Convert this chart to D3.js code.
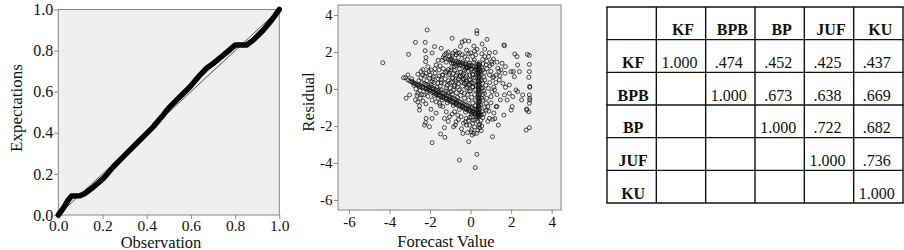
<!DOCTYPE html>
<html><head><meta charset="utf-8">
<script src="https://cdn.jsdelivr.net/npm/d3@7"></script>
<style>
html,body{margin:0;padding:0;background:#fff;}
svg{display:block;}
svg text{font-family:"Liberation Serif","Times New Roman",serif !important;fill:#111;}
</style></head>
<body><svg id="c" width="904" height="250"></svg>
<script>
// ---- P-P plot data ----
const ppObserved = [0,0.023,0.045,0.06,0.098,0.12,0.158,0.204,0.249,0.309,0.355,0.40,0.43,0.475,0.498,0.536,0.596,0.641,0.671,0.701,0.747,0.80,0.852,0.882,0.928,0.966,1.0];
const ppExpected = [0,0.033,0.073,0.092,0.094,0.105,0.135,0.178,0.235,0.30,0.349,0.397,0.43,0.487,0.519,0.56,0.624,0.681,0.714,0.738,0.778,0.827,0.827,0.851,0.90,0.949,1.0];
const ppTicks = [0,0.2,0.4,0.6,0.8,1.0];

// ---- Residual scatter data: [forecast, residual] ----
const residualPoints = [
[-4.33,1.42],[-2.14,3.19],[-2.72,2.52],[-3.06,1.87],[-2.24,2.52],[-2.24,2.07],[-1.78,2.29],[-1.45,2.2],[-0.91,2.74],[-0.42,2.54],
[-0.29,2.61],[-0.09,2.59],[0.31,3.15],[0.31,3.0],[0.81,2.68],[0.57,2.43],[0.16,2.32],[0.32,2.14],[0.93,1.96],[1.21,1.98],
[1.64,2.38],[1.67,2.34],[2.18,1.89],[2.29,1.75],[2.8,1.87],[2.9,1.82],[2.9,1.33],[2.9,0.94],[2.87,0.63],[2.92,0.14],
[2.92,0.09],[2.9,-0.32],[2.92,-0.5],[2.92,-0.6],[2.9,-0.77],[2.87,-1.23],[2.77,-1.08],[2.77,-1.14],[2.9,-2.09],[2.74,-2.22],
[2.57,-0.32],[2.52,-0.59],[2.41,0.94],[2.11,0.94],[2.0,0.94],[2.32,1.3],[2.16,0.67],[1.91,0.22],[2.24,-0.05],[2.32,-0.14],
[2.08,-0.41],[1.72,0.09],[1.67,-0.32],[1.91,-0.23],[2.05,-0.95],[2.0,-1.14],[1.64,-1.41],[1.37,-1.95],[1.08,-2.58],[1.09,-1.64],
[0.93,-1.59],[1.26,-0.95],[1.47,-0.59],[1.42,0.49],[1.5,1.03],[1.34,1.12],[1.13,1.62],[1.55,1.39],[1.72,1.21],[1.04,1.48],
[0.88,1.75],[0.77,1.3],[0.93,0.76],[1.13,0.67],[0.7,0.49],[0.88,0.04],[1.18,-0.05],[1.01,-0.41],[0.77,-1.14],[0.52,-1.41],
[0.41,-1.95],[0.36,-2.22],[0.16,-2.4],[0.03,-2.31],[0.08,-2.49],[-0.05,-1.95],[-0.25,-1.77],[-0.38,-2.4],[-0.55,-3.84],[-0.09,-2.85],
[0.31,-3.53],[0.23,-4.25],[0.52,-2.25],[-0.71,-1.77],[-0.84,-2.04],[-1.27,-2.61],[-1.29,-2.09],[-1.48,-2.43],[-1.9,-2.9],[-2.03,-2.04],
[-2.19,-1.59],[-1.9,-1.59],[-2.22,-1.82],[-2.27,-1.95],[-2.52,-1.14],[-2.72,-0.59],[-3.01,-0.32],[-3.18,-0.5],[-2.6,-0.23],[-2.49,-0.5],
[-2.31,-0.32],[-2.52,-0.91],[-3.21,0.61],[-3.09,0.76],[-3.31,0.61],[-2.88,0.4],[-2.77,0.31],[-2.6,0.22],[-2.52,0.13],[-2.36,0.09],
[-2.19,0.04],[-2.03,-0.05],[-1.83,-0.14],[-1.7,-0.23],[-1.53,-0.32],[-1.37,-0.41],[-1.2,-0.5],[-1.04,-0.59],[-0.87,-0.68],[-0.71,-0.77],
[-0.55,-0.86],[-0.38,-0.95],[-0.22,-1.04],[-0.06,-1.13],[0.11,-1.22],[0.24,-1.31],[0.36,-1.4],[-2.36,0.76],[-2.44,0.94],[-2.19,0.85],
[-2.11,1.21],[-2.22,1.48],[-2.03,0.58],[-1.9,0.4],[-1.95,1.03],[-1.7,1.3],[-1.56,1.03],[-1.83,0.67],[-1.62,0.31],[-1.45,0.49],
[-1.37,0.76],[-1.17,0.94],[-1.29,1.84],[-1.2,1.93],[-1.04,1.75],[-0.88,1.93],[-0.71,1.84],[-0.55,1.96],[-0.3,1.75],[-1.53,-0.77],
[-1.37,-0.95],[-1.2,-1.23],[-1.04,-1.5],[-1.29,-1.59],[-0.79,-1.23],[-0.63,-1.41],[-0.47,-1.5],[-0.22,-1.59],[0.03,-1.5],[0.28,-1.5],
[0.57,-1.23],[0.77,-0.77],[0.6,-0.6],[0.69,-0.23],[0.52,0.04],[0.6,0.31],[0.52,0.76],[0.6,1.03],[0.44,1.3],[0.19,1.57],
[-0.06,1.39],[-0.22,1.21],[-0.38,1.48],[-0.63,1.39],[-0.8,1.21],[-0.96,1.03],[-1.07,0.76],[-0.88,0.58],[-0.71,0.4],[-0.55,0.67],
[-0.38,0.49],[-0.22,0.31],[-0.06,0.49],[0.11,0.76],[0.11,0.13],[-0.06,-0.14],[-0.3,-0.23],[-0.55,-0.05],[-0.79,0.13],[-0.96,-0.14],
[-1.2,0.04],[-1.04,0.31],
// vertical band near forecast 0.4
[0.37,-1.5],[0.43,-1.42],[0.37,-1.35],[0.43,-1.28],[0.37,-1.2],[0.43,-1.12],[0.37,-1.05],[0.43,-0.97],[0.37,-0.9],[0.43,-0.82],
[0.37,-0.75],[0.43,-0.67],[0.37,-0.6],[0.43,-0.52],[0.37,-0.45],[0.43,-0.37],[0.37,-0.3],[0.43,-0.22],[0.37,-0.15],[0.43,-0.07],
[0.37,0],[0.43,0.08],[0.37,0.15],[0.43,0.23],[0.37,0.3],[0.43,0.38],[0.37,0.45],[0.43,0.53],[0.37,0.6],[0.43,0.68],
[0.37,0.75],[0.43,0.83],[0.37,0.9],[0.43,0.98],[0.37,1.05],[0.43,1.13],[0.37,1.2],[0.43,1.28],[0.37,1.35],[0.43,1.42],
[0.41,-1.46],[0.39,-1.3],[0.41,-1.1],[0.39,-0.93],[0.41,-0.7],[0.39,-0.5],[0.41,-0.27],[0.39,-0.05],[0.41,0.2],[0.39,0.42],
[0.41,0.65],[0.39,0.87],[0.41,1.1],[0.39,1.32],
// lower diagonal bands
[-3.1,0.49],[-2.9,0.38],[-2.7,0.27],[-2.5,0.16],[-2.3,0.05],[-2.1,-0.06],[-1.9,-0.18],[-1.7,-0.29],[-1.5,-0.4],[-1.3,-0.51],
[-1.1,-0.62],[-0.9,-0.73],[-0.7,-0.84],[-0.5,-0.95],[-0.3,-1.06],[-0.1,-1.17],[0.1,-1.28],[0.3,-1.39],
[-3.0,0.43],[-2.8,0.32],[-2.6,0.21],[-2.4,0.1],[-2.2,-0.01],[-2.0,-0.12],[-1.8,-0.23],[-1.6,-0.35],[-1.4,-0.46],[-1.2,-0.57],
[-1.0,-0.68],[-0.8,-0.79],[-0.6,-0.9],[-0.4,-1.01],[-0.2,-1.12],[0.0,-1.23],[0.2,-1.34],[0.4,-1.45],
[-2.4,0.35],[-2.2,0.24],[-2.0,0.13],[-1.8,0.02],[-1.6,-0.1],[-1.4,-0.21],[-1.2,-0.32],[-1.0,-0.43],[-0.8,-0.54],[-0.6,-0.65],
[-0.4,-0.76],[-0.2,-0.87],[0.0,-0.98],[0.2,-1.09],
[-2.3,0.3],[-2.1,0.19],[-1.9,0.07],[-1.7,-0.04],[-1.5,-0.15],[-1.3,-0.26],[-1.1,-0.37],[-0.9,-0.48],[-0.7,-0.59],[-0.5,-0.7],
[-0.3,-0.81],[-0.1,-0.92],[0.1,-1.03],[0.3,-1.14],
// upper diagonal bands
[-1.1,1.6],[-1.0,1.57],[-0.9,1.54],[-0.8,1.51],[-0.7,1.48],[-0.6,1.45],[-0.5,1.42],[-0.4,1.39],[-0.3,1.36],[-0.2,1.33],
[-0.1,1.3],[0.0,1.27],[0.1,1.24],[0.2,1.21],[0.3,1.18],
[-0.95,1.41],[-0.75,1.35],[-0.55,1.29],[-0.35,1.23],[-0.15,1.17],[0.05,1.11],[0.25,1.05],
// interior and surroundings
[-1.8,0.35],[-1.6,0.55],[-1.4,0.75],[-1.25,0.9],[-1.1,1.05],[-0.95,1.15],[-0.8,1.0],[-0.65,0.85],[-0.5,0.7],[-0.35,0.55],
[-0.2,0.4],[-0.05,0.25],[0.1,0.1],[0.25,-0.05],[-1.5,0.15],[-1.3,0.3],[-1.1,0.45],[-0.9,0.6],[-0.7,0.75],[-0.5,0.9],
[-0.3,1.0],[-0.1,0.95],[0.1,0.8],[0.25,0.6],[-1.2,-0.1],[-1.0,0.05],[-0.8,0.2],[-0.6,0.3],[-0.4,0.15],[-0.2,0.05],
[0.0,-0.1],[0.2,-0.3],[-0.9,-0.3],[-0.7,-0.2],[-0.5,-0.35],[-0.3,-0.5],[-0.1,-0.6],[0.1,-0.75],[0.25,-0.9],[-0.6,0.55],
[-0.4,0.75],[-0.2,0.7],[0.0,0.5],[0.15,0.3],[-0.1,0.2],[-0.3,0.3],[0.2,0.95],[0.0,1.05],[-0.2,1.15],
[0.6,1.35],[0.7,0.9],[0.55,0.45],[0.65,-0.1],[0.55,-0.5],[0.7,-1.0],[0.5,-1.7],[0.45,-1.9],[0.35,-1.75],[0.25,-1.65],
[0.1,-1.85],[-0.1,-1.7],[-0.2,-1.95],[0.55,-2.0],[-1.4,-0.6],[-1.6,-0.5],[-1.8,-0.35],[-1.7,-0.7],[-1.5,-0.9],[-1.9,-0.6],
[-2.1,-0.4],[-2.2,-0.8],[-1.95,-1.1],[-1.7,-1.3],[-1.5,1.25],[-1.4,1.55],[-1.25,1.65],[-0.9,1.8],[-0.6,1.7],[-0.4,1.85],
[-0.1,1.9],[0.1,1.75],[0.25,1.85],[0.6,1.6],[0.8,1.5],[0.95,1.25],[1.0,0.95],[1.1,0.6],[1.25,0.35],[1.15,0.1],
[1.3,-0.3],[1.0,-0.75],[0.9,-1.2],[1.15,-1.3],[1.3,-0.95],[1.45,0.7],[1.6,0.3],[1.7,0.85],[1.8,-0.6],[1.2,-1.6],
[0.85,-1.75],[-2.6,0.8],[-2.8,0.2],[-2.5,-0.1],[-2.65,-0.35],[-2.35,1.05],[-2.45,0.6],[-2.0,0.75],[-1.75,1.1],[-1.85,0.55],
[-2.15,0.45],
// central cloud, additional
[-1.35,1.7],[-1.1,2.0],[-0.75,2.05],[-0.5,2.3],[-0.2,2.1],[0.0,1.95],[0.2,2.05],[0.55,1.9],[0.7,2.15],[-0.95,1.65],
[-0.65,1.95],[-0.15,1.6],[0.15,1.45],[0.7,1.75],[1.3,1.45],[1.4,0.95],[1.25,0.75],
[-1.95,0.25],[-1.75,0.85],[-1.65,0.1],[-1.55,0.7],[-1.45,0.35],[-1.35,1.1],[-1.25,0.55],[-1.15,0.2],[-1.05,0.85],
[-0.95,0.35],[-0.85,0.85],[-0.75,0.5],[-0.65,0.1],[-0.55,1.1],[-0.45,0.4],[-0.35,0.85],[-0.25,0.6],[-0.15,0.1],[-0.05,0.75],
[0.05,0.35],[0.15,0.6],[0.25,0.2],[0.3,0.85],[-0.85,-0.05],[-0.45,-0.15],[-0.15,-0.3],[0.05,-0.45],[0.25,-0.6],[-0.65,-0.45],
[-1.1,-0.2],[-1.45,-0.05],
[0.55,1.15],[0.65,0.65],[0.75,0.2],[0.6,-0.3],[0.8,-0.5],[0.5,-0.85],[0.65,-1.35],[0.85,-0.95],[0.95,0.35],[1.05,-0.15],
[0.8,1.1],[1.05,1.35],[0.5,0.95],[0.58,0.05],
[-0.6,-1.65],[-0.35,-1.85],[-0.05,-1.55],[0.15,-1.7],[-0.45,-2.15],[0.2,-2.05],[0.05,-2.2],[-0.15,-2.35],[0.3,-2.4],[0.45,-2.1],
[0.6,-1.55],[-0.9,-1.35],[-1.1,-1.75],[-0.75,-1.95],
[-2.9,0.55],[-2.7,0.0],[-2.55,0.45],[-2.4,-0.3],[-2.25,0.7],[-2.15,-0.15],[-2.05,0.95],[-2.35,-0.65],[-2.6,-0.7],[-2.2,1.7],
[-1.9,1.95],[-1.6,1.55],
[-1.6,-0.2],[-1.3,-0.4],[-1.0,-0.55],[-0.7,-0.7],[-0.4,-0.9],[-0.1,-1.05],[0.15,-1.2],[-1.85,0.0],[-2.05,0.05],[-1.15,-0.75],
[-0.85,-0.9],[-0.55,-1.1],[-0.25,-1.25],[0.05,-1.35],
[-1.2,1.45],[-0.85,1.4],[-0.45,1.3],[-0.05,1.2],[0.3,1.05],[-0.7,1.25],[-0.25,1.1]
];
const residTicksX = [-6,-4,-2,0,2,4];
const residTicksY = [-6,-4,-2,0,2,4];

// ---- Correlation table ----
const tableVars = ["KF","BPB","BP","JUF","KU"];
const corrValues = [
  [1.000,0.474,0.452,0.425,0.437],
  [null,1.000,0.673,0.638,0.669],
  [null,null,1.000,0.722,0.682],
  [null,null,null,1.000,0.736],
  [null,null,null,null,1.000]
];

const SERIF = '"Liberation Serif","Times New Roman",serif';
const svg = d3.select("#c").style("font-family", SERIF);
const AX = "#888";
const BG = "#efefef";

function styleAxis(g, size){
  g.attr("font-family", SERIF).style("font-family", SERIF);
  g.select(".domain").remove();
  g.selectAll(".tick line").attr("stroke", AX);
  g.selectAll(".tick text").attr("font-size", size).style("font-family", SERIF).attr("fill","#111");
}

// ===== Panel 1: P-P plot =====
{
  const x = d3.scaleLinear([0,1],[58.3,279.3]);
  const y = d3.scaleLinear([0,1],[215,9.5]);
  svg.append("rect").attr("x",x(0)).attr("y",y(1)).attr("width",x(1)-x(0)).attr("height",y(0)-y(1))
     .attr("fill",BG).attr("stroke",AX).attr("stroke-width",1);
  svg.append("g").attr("transform",`translate(0,${y(0)})`)
     .call(d3.axisBottom(x).tickValues(ppTicks).tickFormat(d3.format(".1f")).tickSize(4).tickPadding(0.5))
     .call(g=>styleAxis(g,15.5));
  svg.append("g").attr("transform",`translate(${x(0)},0)`)
     .call(d3.axisLeft(y).tickValues(ppTicks).tickFormat(d3.format(".1f")).tickSize(4).tickPadding(1))
     .call(g=>styleAxis(g,16));
  svg.append("line").attr("x1",x(0)).attr("y1",y(0)).attr("x2",x(1)).attr("y2",y(1))
     .attr("stroke","#555").attr("stroke-width",1);
  const line = d3.line().x((d,i)=>x(ppObserved[i])).y((d,i)=>y(ppExpected[i]));
  svg.append("path").datum(ppObserved).attr("d",line).attr("fill","none")
     .attr("stroke","#000").attr("stroke-width",5.5).attr("stroke-linejoin","round").attr("stroke-linecap","round");
  svg.append("text").attr("x",161).attr("y",247.5).attr("text-anchor","middle").attr("font-size",16.5).text("Observation");
  svg.append("text").attr("transform","translate(21.5,108) rotate(-90)").attr("text-anchor","middle").attr("font-size",17).text("Expectations");
}

// ===== Panel 2: residual scatter =====
{
  const x = d3.scaleLinear([-6.54,4.46],[338,561]);
  const y = d3.scaleLinear([-6.54,4.54],[210,5]);
  svg.append("rect").attr("x",x.range()[0]).attr("y",y.range()[1]).attr("width",x.range()[1]-x.range()[0]).attr("height",y.range()[0]-y.range()[1])
     .attr("fill",BG).attr("stroke",AX).attr("stroke-width",1);
  svg.append("g").attr("transform",`translate(0,${y.range()[0]})`)
     .call(d3.axisBottom(x).tickValues(residTicksX).tickFormat(d=>String(d)).tickSize(4).tickPadding(2.3))
     .call(g=>styleAxis(g,15));
  svg.append("g").attr("transform",`translate(${x.range()[0]},0)`)
     .call(d3.axisLeft(y).tickValues(residTicksY).tickFormat(d=>String(d)).tickSize(4).tickPadding(1.5))
     .call(g=>styleAxis(g,15));
  svg.append("g").selectAll("circle").data(residualPoints).join("circle")
     .attr("cx",d=>x(d[0])).attr("cy",d=>y(d[1])).attr("r",2)
     .attr("fill","none").attr("stroke","#111").attr("stroke-opacity",0.75).attr("stroke-width",1);
  svg.append("text").attr("x",446).attr("y",246.5).attr("text-anchor","middle").attr("font-size",16.5).text("Forecast Value");
  svg.append("text").attr("transform","translate(314,102) rotate(-90)").attr("text-anchor","middle").attr("font-size",17).text("Residual");
}

// ===== Panel 3: correlation table =====
{
  const cols = ["", ...tableVars];
  const cx = d3.scaleBand(cols,[607,903]);
  const ry = d3.scaleBand(cols,[7,203]);
  const g = svg.append("g");
  const edgesX = cols.map(c=>cx(c)).concat([cx.range()[1]]);
  const edgesY = cols.map(c=>ry(c)).concat([ry.range()[1]]);
  g.selectAll("line.v").data(edgesX).join("line").attr("class","v")
    .attr("x1",d=>d).attr("x2",d=>d).attr("y1",ry.range()[0]).attr("y2",ry.range()[1])
    .attr("stroke","#111").attr("stroke-width",1.4);
  g.selectAll("line.h").data(edgesY).join("line").attr("class","h")
    .attr("y1",d=>d).attr("y2",d=>d).attr("x1",cx.range()[0]-0.7).attr("x2",cx.range()[1]+0.7)
    .attr("stroke","#111").attr("stroke-width",1.4);
  const fmt = v => v===1 ? "1.000" : d3.format(".3f")(v).replace(/^0/,"");
  g.selectAll("text.hd").data(tableVars).join("text").attr("class","hd")
    .attr("x",d=>cx(d)+cx.bandwidth()/2+2).attr("y",ry("")+ry.bandwidth()-4.5)
    .attr("text-anchor","middle").attr("font-size",16).attr("font-weight","bold").text(d=>d);
  g.selectAll("text.rl").data(tableVars).join("text").attr("class","rl")
    .attr("x",cx("")+cx.bandwidth()/2+1.5).attr("y",d=>ry(d)+ry.bandwidth()-4.5)
    .attr("text-anchor","middle").attr("font-size",16).attr("font-weight","bold").text(d=>d);
  const cells = [];
  corrValues.forEach((row,i)=>row.forEach((v,j)=>{ if(v!==null) cells.push({r:tableVars[i],c:tableVars[j],v}); }));
  g.selectAll("text.val").data(cells).join("text").attr("class","val")
    .attr("x",d=>cx(d.c)+cx.bandwidth()/2-1.5).attr("y",d=>ry(d.r)+ry.bandwidth()-4.5)
    .attr("text-anchor","middle").attr("font-size",16).text(d=>fmt(d.v));
}
</script></body></html>
